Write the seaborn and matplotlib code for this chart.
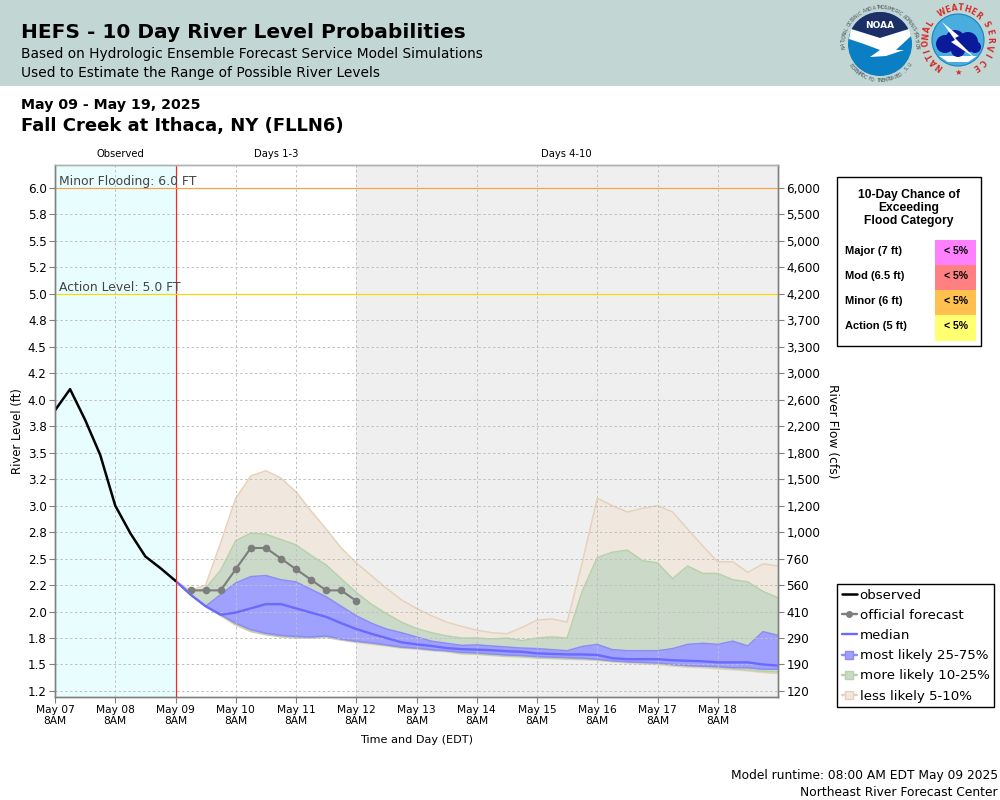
import numpy as np
import pandas as pd

import matplotlib.pyplot as plt
from matplotlib.lines import Line2D
from matplotlib.patches import Circle, Polygon, Rectangle
import seaborn as sns

# ---------------- data (river level in ft) ----------------
obs_times = pd.date_range("2025-05-07 08:00", periods=9, freq="6h")
observed = [3.90, 4.10, 3.81, 3.48, 3.00, 2.74, 2.52, 2.41, 2.29]

fcst_times = pd.date_range("2025-05-09 14:00", periods=12, freq="6h")
official = [2.20, 2.20, 2.20, 2.40, 2.60, 2.60, 2.50, 2.40, 2.30, 2.20, 2.20, 2.10]

ens_times = pd.date_range("2025-05-09 08:00", periods=41, freq="6h")
p05 = [2.29, 2.16, 2.05, 1.96, 1.87, 1.81, 1.78, 1.76, 1.75, 1.75, 1.755, 1.73, 1.71, 1.69,
       1.675, 1.655, 1.645, 1.63, 1.62, 1.60, 1.595, 1.585, 1.575, 1.57, 1.56, 1.555, 1.55,
       1.545, 1.54, 1.525, 1.515, 1.505, 1.50, 1.485, 1.475, 1.47, 1.46, 1.45, 1.44, 1.425, 1.415]
p10 = [2.29, 2.16, 2.05, 1.965, 1.88, 1.815, 1.785, 1.765, 1.755, 1.755, 1.76, 1.735, 1.715, 1.70,
       1.68, 1.66, 1.65, 1.635, 1.625, 1.605, 1.60, 1.59, 1.58, 1.575, 1.565, 1.56, 1.555,
       1.55, 1.545, 1.53, 1.525, 1.515, 1.51, 1.495, 1.485, 1.48, 1.47, 1.46, 1.45, 1.435, 1.43]
p25 = [2.29, 2.16, 2.05, 1.97, 1.89, 1.83, 1.795, 1.775, 1.765, 1.76, 1.77, 1.74, 1.72, 1.705,
       1.685, 1.665, 1.655, 1.64, 1.63, 1.615, 1.61, 1.60, 1.59, 1.585, 1.575, 1.57, 1.565,
       1.56, 1.55, 1.535, 1.525, 1.52, 1.515, 1.50, 1.49, 1.485, 1.48, 1.47, 1.47, 1.455, 1.455]
p50 = [2.29, 2.16, 2.05, 1.97, 1.99, 2.03, 2.07, 2.07, 2.03, 1.99, 1.95, 1.89, 1.835, 1.79,
       1.75, 1.71, 1.69, 1.675, 1.655, 1.645, 1.64, 1.635, 1.625, 1.62, 1.605, 1.60, 1.595,
       1.595, 1.59, 1.56, 1.55, 1.55, 1.55, 1.54, 1.535, 1.53, 1.52, 1.52, 1.52, 1.50, 1.49]
p75 = [2.29, 2.16, 2.05, 2.16, 2.27, 2.33, 2.34, 2.30, 2.28, 2.21, 2.14, 2.05, 1.96, 1.89,
       1.835, 1.80, 1.76, 1.72, 1.70, 1.68, 1.685, 1.675, 1.665, 1.655, 1.65, 1.64, 1.63,
       1.67, 1.69, 1.64, 1.63, 1.63, 1.63, 1.65, 1.69, 1.70, 1.69, 1.72, 1.675, 1.81, 1.775]
p90 = [2.29, 2.18, 2.22, 2.39, 2.67, 2.74, 2.73, 2.68, 2.63, 2.53, 2.44, 2.31, 2.18, 2.07,
       1.98, 1.90, 1.84, 1.80, 1.77, 1.75, 1.75, 1.74, 1.75, 1.725, 1.75, 1.76, 1.75,
       2.19, 2.51, 2.56, 2.58, 2.48, 2.46, 2.31, 2.43, 2.36, 2.36, 2.30, 2.28, 2.19, 2.13]
p95 = [2.29, 2.20, 2.25, 2.65, 3.07, 3.28, 3.33, 3.26, 3.13, 2.95, 2.78, 2.60, 2.46, 2.34,
       2.22, 2.11, 2.03, 1.96, 1.90, 1.86, 1.825, 1.80, 1.79, 1.85, 1.92, 1.93, 1.90,
       2.46, 3.07, 3.00, 2.94, 2.975, 3.00, 2.94, 2.78, 2.62, 2.47, 2.47, 2.37, 2.45, 2.43]

level_ticks = [6.0, 5.75, 5.5, 5.25, 5.0, 4.75, 4.5, 4.25, 4.0, 3.75, 3.5, 3.25, 3.0, 2.75,
               2.5, 2.25, 2.0, 1.75, 1.5, 1.25]
level_labels = ["6.0", "5.8", "5.5", "5.2", "5.0", "4.8", "4.5", "4.2", "4.0", "3.8", "3.5", "3.2",
                "3.0", "2.8", "2.5", "2.2", "2.0", "1.8", "1.5", "1.2"]
flow_labels = ["6,000", "5,500", "5,000", "4,600", "4,200", "3,700", "3,300", "3,000", "2,600", "2,200",
               "1,800", "1,500", "1,200", "1,000", "760", "560", "410", "290", "190", "120"]
day_labels = ["May 07\n8AM", "May 08\n8AM", "May 09\n8AM", "May 10\n8AM", "May 11\n8AM", "May 12\n8AM",
              "May 13\n8AM", "May 14\n8AM", "May 15\n8AM", "May 16\n8AM", "May 17\n8AM", "May 18\n8AM"]

categories = ["Major (7 ft)", "Mod (6.5 ft)", "Minor (6 ft)", "Action (5 ft)"]
chances = ["< 5%", "< 5%", "< 5%", "< 5%"]
chance_colors = ["#ff80ff", "#ff8080", "#ffc050", "#ffff70"]

TAN, TAN_EDGE = "#f0e8de", "#e6d2ba"
GREEN, GREEN_EDGE = "#cbdac8", "#b6d2ab"
BLUE, BLUE_EDGE = "#a0a0fe", "#8c8cf5"
MEDIAN = "#6a6aff"

sns.set_style("white")
plt.rcParams["font.family"] = "DejaVu Sans"
plt.rcParams["text.color"] = "black"
plt.rcParams["xtick.labelcolor"] = "black"
plt.rcParams["ytick.labelcolor"] = "black"

obs_df = pd.DataFrame({"time": obs_times, "level": observed})
fcst_df = pd.DataFrame({"time": fcst_times, "level": official})
ens_df = pd.DataFrame({"time": ens_times, "p05": p05, "p10": p10, "p25": p25,
                       "p50": p50, "p75": p75, "p90": p90, "p95": p95})

fig = plt.figure(figsize=(10, 8), dpi=100)

# overlay in pixel coordinates for the header, logos and the flood table
page = fig.add_axes([0, 0, 1, 1], zorder=0)
page.set_xlim(0, 1000)
page.set_ylim(800, 0)
page.axis("off")


def ring_text(text, cx, cy, r, start, end, size, color, weight="normal", inward=False):
    # one rotated character after the other, angles in degrees, clockwise from the top
    for ang, ch in zip(np.linspace(start, end, len(text)), text):
        rad = np.radians(ang)
        rot = 180 - ang if inward else -ang
        page.text(cx + r * np.sin(rad), cy - r * np.cos(rad), ch, fontsize=size, color=color,
                  weight=weight, rotation=rot, ha="center", va="center")


page.add_patch(Rectangle((0, 0), 1000, 86, color="#c2d6d3", lw=0))
page.text(21, 33, "HEFS - 10 Day River Level Probabilities", fontsize=14.5, weight="bold", va="center")
page.text(21, 54, "Based on Hydrologic Ensemble Forecast Service Model Simulations", fontsize=9.9, va="center")
page.text(21, 73, "Used to Estimate the Range of Possible River Levels", fontsize=9.9, va="center")
page.text(21, 105, "May 09 - May 19, 2025", fontsize=10.2, weight="bold", va="center")
page.text(21, 126, "Fall Creek at Ithaca, NY (FLLN6)", fontsize=13, weight="bold", va="center")
page.text(998, 776, "Model runtime: 08:00 AM EDT May 09 2025", fontsize=8.8, ha="right", va="center")
page.text(998, 792, "Northeast River Forecast Center", fontsize=8.8, ha="right", va="center")

# NOAA logo
page.add_patch(Circle((880, 44), 32, color="#0a7fc4", lw=0))
arc = np.radians(np.linspace(-62, 62, 30))
navy = [(880 + 32 * np.sin(a), 44 - 32 * np.cos(a)) for a in arc] + [(880, 38)]
page.add_patch(Polygon(navy, color="#1c2f66", lw=0))
page.add_patch(Polygon([(851, 29), (880, 38), (909, 29), (911, 36), (896, 50), (904, 50), (886, 56), (870, 57),
                        (880, 50), (864, 44), (849, 39)], color="white", lw=0))
page.text(880, 26, "NOAA", fontsize=6.5, weight="bold", color="white", ha="center", va="center")
ring_text("NATIONAL OCEANIC AND ATMOSPHERIC ADMINISTRATION", 880, 44, 36.5, -95, 95, 3.3, "#44505a")
ring_text("U.S. DEPARTMENT OF COMMERCE", 880, 44, 36.5, 125, 235, 3.3, "#44505a", inward=True)

# NWS logo
page.add_patch(Circle((958, 40), 26, fc="#49aede", ec="#1f7fc0", lw=0.8))
page.add_patch(Polygon([(939, 56), (977, 56), (968, 62), (948, 62)], color="white", lw=0))
for cx, cy, r in [(945, 44, 9), (955, 40, 10), (968, 42, 10), (975, 47, 6), (958, 50, 7)]:
    page.add_patch(Circle((cx, cy), r, color="#0a1a9a", lw=0))
page.add_patch(Polygon([(942, 22), (959, 36), (955, 38), (975, 58), (951, 42), (955, 40)], color="white", lw=0))
ring_text("NATIONAL", 958, 40, 32, -145, -59, 5.5, "#d62a2a", weight="bold")
ring_text("WEATHER", 958, 40, 32, -30, 40, 5.5, "#d62a2a", weight="bold")
ring_text("SERVICE", 958, 40, 32, 61, 146, 5.5, "#d62a2a", weight="bold")
page.text(958, 72, "★", fontsize=6, color="#d62a2a", ha="center", va="center")

# flood category table
page.add_patch(Rectangle((836.5, 176.5), 144, 169, fc="white", ec="black", lw=1))
for y_px, line in zip([195, 208, 221], ["10-Day Chance of", "Exceeding", "Flood Category"]):
    page.text(909, y_px, line, fontsize=8.7, family="Liberation Sans", weight="bold", ha="center", va="center")
for i, (cat, chance, col) in enumerate(zip(categories, chances, chance_colors)):
    y_px = 251 + 25 * i
    page.add_patch(Rectangle((935, 240 + 25 * i), 41, 25.5, color=col, lw=0))
    page.text(845, y_px, cat, fontsize=8, family="Liberation Sans", weight="bold", va="center")
    page.text(955.5, y_px, chance, fontsize=7.6, family="Liberation Sans", weight="bold", ha="center", va="center")

# main plot area
ax = fig.add_axes([55 / 1000, 1 - 697 / 800, 723 / 1000, 532 / 800], zorder=1)
ax.set_axisbelow(False)
ax.grid(True, color="#c0c0c0", ls=(0, (2.5, 2.5)), lw=0.7)

t0, t1 = pd.Timestamp("2025-05-07 08:00"), pd.Timestamp("2025-05-19 08:00")
t_now, t_grey = pd.Timestamp("2025-05-09 08:00"), pd.Timestamp("2025-05-12 08:00")
ax.axvspan(t0, t_now, color="#e8fdfd", lw=0, zorder=0)
ax.axvspan(t_grey, t1, color="#efefef", lw=0, zorder=0)

ax.fill_between(ens_df["time"], ens_df["p05"], ens_df["p95"], color=TAN, lw=0, zorder=1)
ax.fill_between(ens_df["time"], ens_df["p10"], ens_df["p90"], color=GREEN, lw=0, zorder=1.1)
ax.fill_between(ens_df["time"], ens_df["p25"], ens_df["p75"], color=BLUE, lw=0, zorder=1.2)

for col, edge, z in [("p05", TAN_EDGE, 1.05), ("p95", TAN_EDGE, 1.05), ("p10", GREEN_EDGE, 1.15),
                     ("p90", GREEN_EDGE, 1.15), ("p25", BLUE_EDGE, 1.25), ("p75", BLUE_EDGE, 1.25)]:
    sns.lineplot(data=ens_df, x="time", y=col, color=edge, lw=1.1, ax=ax, zorder=z, legend=False)

sns.lineplot(data=ens_df, x="time", y="p50", color=MEDIAN, lw=1.7, ax=ax, zorder=3, legend=False)
sns.lineplot(data=fcst_df, x="time", y="level", color="#7d7d7d", lw=1.5, marker="o", markersize=5.5,
             markeredgewidth=0, ax=ax, zorder=3.2, legend=False)
sns.lineplot(data=obs_df, x="time", y="level", color="black", lw=1.8, ax=ax, zorder=3.4, legend=False)

ax.axvline(t_now, color="#ff2020", lw=0.85, zorder=3.5)
ax.axhline(6.0, color="#ffa040", lw=0.85, zorder=3.5)
ax.axhline(5.0, color="#ffd700", lw=0.85, zorder=3.5)
ax.text(pd.Timestamp("2025-05-07 09:30"), 6.0, "Minor Flooding: 6.0 FT", fontsize=8.9, color="#444444", va="bottom", zorder=4)
ax.text(pd.Timestamp("2025-05-07 09:30"), 5.0, "Action Level: 5.0 FT", fontsize=8.9, color="#444444", va="bottom", zorder=4)

ax.set_xlim(t0, t1)
ax.set_ylim(1.193, 6.217)
ax.set_xticks(pd.date_range(t0, periods=len(day_labels), freq="D"))
ax.set_xticklabels(day_labels, fontsize=7.7, linespacing=1.1)
ax.set_yticks(level_ticks)
ax.set_yticklabels(level_labels, fontsize=8.6)
ax.tick_params(axis="both", length=4, width=0.8, color="#808080", pad=2, bottom=True, left=True)
ax.set_xlabel("")
ax.set_ylabel("")

ax2 = ax.twinx()
ax2.set_ylim(ax.get_ylim())
ax2.set_yticks(level_ticks)
ax2.set_yticklabels(flow_labels, fontsize=8.6)
ax2.tick_params(axis="y", length=4, width=0.8, color="#808080", pad=2, right=True)
ax2.grid(False)

for a in (ax, ax2):
    for side in a.spines:
        a.spines[side].set_color("#808080")
        a.spines[side].set_linewidth(1.0)
    a.spines["top"].set_color("#b0b0b0")

page.text(120, 154, "Observed", fontsize=7.2, ha="center", va="center")
page.text(276, 154, "Days 1-3", fontsize=7.2, ha="center", va="center")
page.text(566, 154, "Days 4-10", fontsize=7.2, ha="center", va="center")
page.text(18, 431, "River Level (ft)", fontsize=8.4, rotation=90, ha="center", va="center")
page.text(832, 431, "River Flow (cfs)", fontsize=8.8, rotation=-90, ha="center", va="center")
page.text(417, 740, "Time and Day (EDT)", fontsize=8.1, ha="center", va="center")

handles = [
    Line2D([], [], color="black", lw=1.8),
    Line2D([], [], color="#7d7d7d", lw=1.7, marker="o", markersize=5, markeredgewidth=0),
    Line2D([], [], color=MEDIAN, lw=1.7),
    Line2D([], [], color=BLUE_EDGE, lw=1.7, marker="s", markersize=6, markerfacecolor=BLUE, markeredgecolor=BLUE_EDGE),
    Line2D([], [], color=GREEN_EDGE, lw=1.7, marker="s", markersize=6, markerfacecolor=GREEN, markeredgecolor=GREEN_EDGE),
    Line2D([], [], color=TAN_EDGE, lw=1.7, marker="s", markersize=6, markerfacecolor=TAN, markeredgecolor=TAN_EDGE),
]
labels = ["observed", "official forecast", "median", "most likely 25-75%", "more likely 10-25%", "less likely 5-10%"]
fig.legend(handles, labels, loc="upper left", bbox_to_anchor=(837 / 1000, 1 - 584 / 800), frameon=True,
           fancybox=False, framealpha=1, edgecolor="black", fontsize=9.6, handlelength=1.15, handletextpad=0.2,
           labelspacing=0.54, borderpad=0.35, borderaxespad=0, ncols=1)

fig.savefig("out.png", dpi=100, facecolor="white")
